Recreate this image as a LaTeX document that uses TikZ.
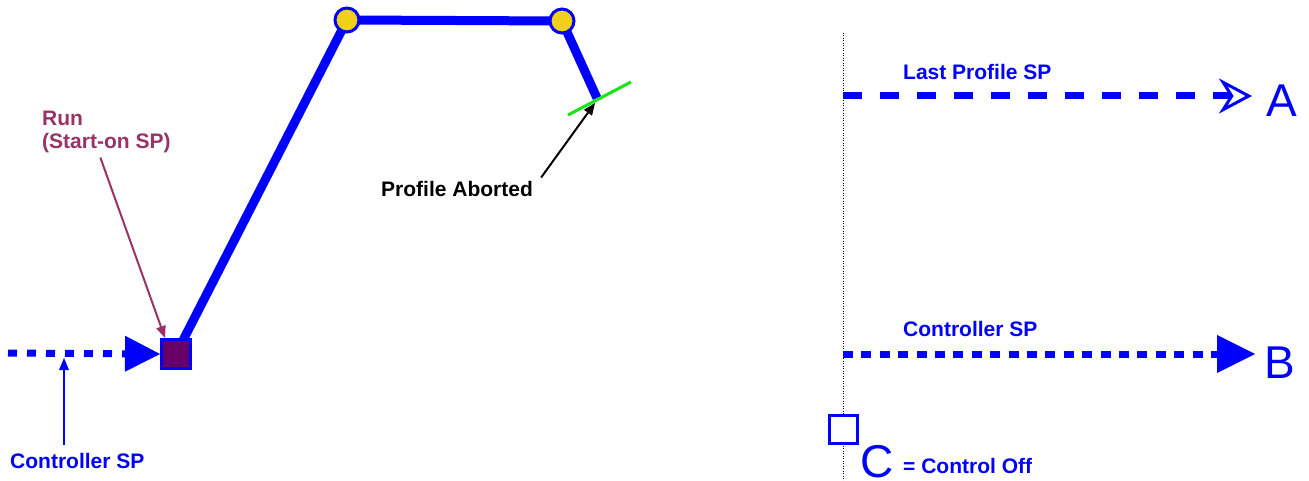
\documentclass[tikz,border=0pt]{standalone}
\usepackage{fontspec}
\setmainfont{Liberation Sans}
\usetikzlibrary{arrows.meta,backgrounds}
\definecolor{pblue}{RGB}{0,0,255}
\definecolor{ptext}{RGB}{153,51,102}
\definecolor{pfill}{RGB}{102,0,102}
\definecolor{pyel}{RGB}{240,208,24}
\definecolor{pgreen}{RGB}{20,230,20}
\begin{document}
\begin{tikzpicture}[x=1pt,y=-1pt,
  lbl/.style={font=\fontsize{21}{23}\selectfont\bfseries, inner sep=0pt, anchor=base west},
  bigletter/.style={font=\fontsize{46}{50}\selectfont, text=pblue, inner sep=0pt, anchor=base west},
  sqbox/.style={draw=pblue, line width=3pt, rectangle, inner sep=0pt, minimum size=29pt},
  dotnode/.style={draw=pblue, fill=pyel, line width=3pt, circle, inner sep=0pt, minimum size=24pt},
  thinarrow/.style={line width=2pt, -{Triangle[length=12pt,width=10pt,line width=0pt]}},
  sqdots/.style={pblue, line width=7pt, dash pattern=on 9pt off 10pt},
]
\useasboundingbox (0,0) rectangle (1309,481);

% ---- left part ----
\node[sqbox, fill=pfill] (run) at (176,354) {};
\node[dotnode] (c1) at (347,20) {};
\node[dotnode] (c2) at (562,21) {};
\coordinate (ab) at (597,98);
\coordinate (g1) at (568,115);
\coordinate (g2) at (631,82);
\coordinate (lstart) at (8,353);
\coordinate (ldot) at (64,358);

\begin{scope}[on background layer]
  \draw[pblue, line width=9pt, line join=round] (run.center) -- (c1.center) -- (c2.center) -- (ab);
\end{scope}
\draw[pgreen, line width=3pt] (g1) -- (g2);

\draw[sqdots, -{Triangle[length=35pt,width=36pt,line width=0pt]}] (lstart) -- (run.west);

\node[lbl, text=ptext] (run1) at (42,126) {Run};
\node[lbl, text=ptext] (run2) at (42,149) {(Start-on SP)};
\draw[ptext, thinarrow] ([shift={(-6,4)}]run2.south) -- ([xshift=5pt]run.north west);

\node[lbl, text=pblue] (ctrl1) at (10,468) {Controller SP};
\draw[pblue, thinarrow] (ctrl1.north -| ldot) ++(0,-8) -- (ldot);

\node[lbl, text=black] (pa) at (381,197) {Profile Aborted};
\draw[black, thinarrow] ([shift={(8,-4)}]pa.north east) -- ([shift={(-2,5)}]ab);

% ---- right part (legend) ----
\coordinate (vtop) at (843,33);
\coordinate (vbot) at (843,481);
\coordinate (astart) at (843,96);
\coordinate (aend) at (1252,96);
\coordinate (bstart) at (843,354);
\coordinate (bend) at (1255,354);

\draw[black, line width=1pt, dash pattern=on 1pt off 1.5pt] (vtop) -- (vbot);

\draw[pblue, line width=7pt, dash pattern=on 19pt off 18pt,
  -{Stealth[open, length=33pt, width=35pt, inset=11pt, line width=3pt]}] (astart) -- (aend);
\node[lbl, text=pblue] (lastsp) at (903,80) {Last Profile SP};
\node[bigletter] (la) at (1266,117) {A};

\draw[pblue, line width=7pt, dash pattern=on 10pt off 8.4pt,
  -{Triangle[length=38pt,width=38pt,line width=0pt]}] (bstart) -- (bend);
\node[lbl, text=pblue] (ctrl2) at (903,336) {Controller SP};
\node[bigletter] (lb) at (1264,378) {B};

\node[draw=pblue, fill=white, line width=3pt, rectangle, inner sep=0pt, minimum size=28pt] (off) at (843.5,429.5) {};
\node[bigletter] (lc) at (860,477) {C};
\node[lbl, text=pblue] (offtxt) at (903,473) {= Control Off};
\end{tikzpicture}
\end{document}
